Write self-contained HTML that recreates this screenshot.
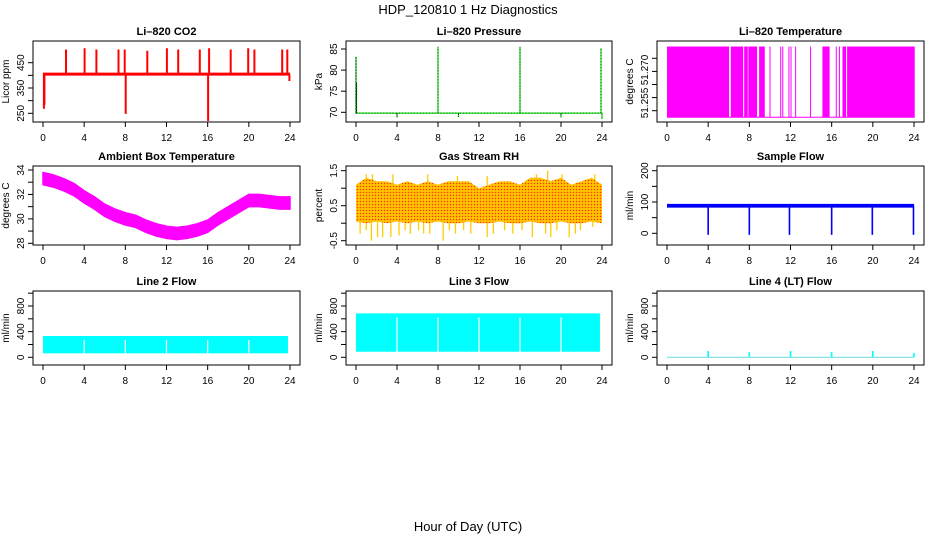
<!DOCTYPE html>
<html><head><meta charset="utf-8"><style>
body{margin:0;background:#fff}
svg{display:block;font-family:"Liberation Sans",sans-serif}
</style></head><body>
<svg id="c" width="936" height="540" viewBox="0 0 936 540">
<defs>
<pattern id="rhpat" width="3" height="3" patternUnits="userSpaceOnUse">
<rect width="3" height="3" fill="#ffb000"/><rect width="1" height="1" fill="#ff3000"/><rect x="1.5" y="1.5" width="1" height="1" fill="#ffff00"/>
</pattern>
</defs>
<text x="468" y="14" font-size="13" text-anchor="middle">HDP_120810  1 Hz Diagnostics</text>
<text x="468" y="531" font-size="13" text-anchor="middle">Hour of Day (UTC)</text>
</svg>
<script>
// ---- data ----
const hourTicks = [0,4,8,12,16,20,24];
const co2Base = 405;
const co2EventHours = [0.05,0.1,2.2,4.0,5.15,7.3,7.9,8.0,10.1,12.0,13.1,15.2,16.1,16.0,18.2,19.9,20.5,23.2,23.7,23.9];
const co2EventValues = [270,285,500,505,500,500,500,250,495,505,500,500,505,222,500,505,500,500,500,380];
const co2Ticks = [250,300,350,400,450];
const co2TickLabels = ["250","","350","","450"];
const presBase = 69.8;
const presEventHours = [0.0,0.05,4.0,8.0,10.0,16.0,20.0,23.9,24.0];
const presEventValues = [83.2,77,68.8,85.5,68.9,85.5,68.8,85.2,68.4];
const presTicks = [70,75,80,85];
const tempHigh = 51.2745, tempLow = 51.2475;
const tempDenseStart = [0,6.2,7.5,7.9,8.95,9.96,11.0,11.2,11.8,12.0,12.45,13.9,15.1,16.4,16.7,17.05,17.5];
const tempDenseEnd   = [6.03,7.4,7.85,8.75,9.5,9.99,11.03,11.23,11.83,12.03,12.48,13.93,15.8,16.43,16.8,17.4,24.07];
const tempTicks = [51.250,51.255,51.260,51.265,51.270];
const ambHours = [0,1,2,3,4,5,6,7,8,9,10,11,12,13,14,15,16,17,18,19,20,21,22,23,24];
const ambValues = [33.3,33.1,32.8,32.4,31.8,31.3,30.7,30.3,30.0,29.8,29.4,29.1,28.9,28.8,28.9,29.1,29.4,30.0,30.5,31.0,31.5,31.5,31.4,31.3,31.3];
const ambTicks = [28,29,30,31,32,33,34];
const ambTickLabels = ["28","","30","","32","","34"];
const rhHours = [0,1,2,3,4,5,6,7,8,9,10,11,12,13,14,15,16,17,18,19,20,21,22,23,24];
const rhUpper = [1.1,1.3,1.2,1.2,1.1,1.2,1.1,1.2,1.1,1.2,1.2,1.2,1.0,1.1,1.2,1.2,1.1,1.3,1.3,1.2,1.3,1.1,1.2,1.3,1.1];
const rhLower = [0.05,0.0,0.05,0.0,0.05,0.0,0.05,0.0,0.05,0.0,0.0,0.05,0.0,0.0,0.05,0.0,0.0,0.05,0.0,0.0,0.05,0.0,0.0,0.05,0.0];
const rhSpikeHours = [0.4,1.0,1.5,2.1,2.6,3.4,4.2,4.8,5.3,6.1,6.6,7.2,8.5,9.1,9.7,10.5,11.2,12.8,13.4,14.5,15.3,16.2,17.2,18.5,19.0,19.6,20.8,21.4,21.9,23.1];
const rhSpikeValues = [-0.3,-0.2,-0.5,-0.4,-0.4,-0.4,-0.35,-0.2,-0.3,-0.2,-0.3,-0.3,-0.5,-0.2,-0.3,-0.2,-0.3,-0.4,-0.3,-0.2,-0.3,-0.2,-0.4,-0.3,-0.4,-0.2,-0.4,-0.3,-0.2,-0.1];
const rhTopSpikeHours = [1.0,1.6,3.6,7.0,9.9,12.8,17.6,18.7,20.1,23.3];
const rhTopSpikeValues = [1.4,1.4,1.4,1.4,1.35,1.35,1.4,1.5,1.4,1.4];
const rhTicks = [-0.5,0,0.5,1,1.5];
const rhTickLabels = ["-0.5","","0.5","","1.5"];
const sfBase = 88;
const sfDipHours = [4.0,8.0,11.9,16.0,19.95,23.95];
const sfDipValues = [-5,-5,-5,-5,-5,-5];
const sfTicks = [0,50,100,150,200];
const sfTickLabels = ["0","","100","","200"];
const l2Upper = 332, l2Lower = 62;
const l3Upper = 685, l3Lower = 87;
const flowGapHours = [4,8,12,16,20];
const l4SpikeHours = [4,8,12,16,20,24];
const l4SpikeValues = [100,80,100,80,100,70];
const flowTicks = [0,200,400,600,800,1000];
const flowTickLabels = ["0","","400","","800",""];

// ---- layout ----
const svg = document.getElementById('c');
const NS = 'http://www.w3.org/2000/svg';
const cols = [{l:33,r:300,x0:43,x24:290},{l:346,r:612,x0:356,x24:602},{l:657,r:924,x0:667,x24:914}];
const rows = [{t:41,b:122},{t:166,b:245},{t:291,b:365}];
function mk(tag, attrs, parent){const e=document.createElementNS(NS,tag);for(const k in attrs)e.setAttribute(k,attrs[k]);(parent||svg).appendChild(e);return e;}

function panel(ci, ri, title, ytitle, v1, p1, v2, p2, ticks, labels, name){
  const c=cols[ci], r=rows[ri];
  const g=mk('g',{});
  
  
  const sx=h=>c.x0+(c.x24-c.x0)*h/24;
  const sy=v=>p1+(v-v1)*(p2-p1)/(v2-v1);
  const t=mk('text',{x:(c.l+c.r)/2,y:r.t-6,'font-size':11,'font-weight':'bold','text-anchor':'middle'},g);
  t.textContent=title;
  
  
  const yt=mk('text',{x:0,y:0,'font-size':10,'text-anchor':'middle',transform:`translate(${c.l-24},${(r.t+r.b)/2}) rotate(-90)`},g);
  yt.textContent=ytitle;
  
  
  const plot=mk('g',{},g);
  const xa=mk('g',{},g);
  
  
  hourTicks.forEach(h=>{
    mk('line',{x1:sx(h),x2:sx(h),y1:r.b,y2:r.b+5,stroke:'#000'},xa);
    const tx=mk('text',{x:sx(h),y:r.b+19,'font-size':10,'text-anchor':'middle'},xa);
    tx.textContent=h;
  });
  const ya=mk('g',{},g);
  
  
  ticks.forEach((v,i)=>{
    const y=sy(v);
    mk('line',{x1:c.l-5,x2:c.l,y1:y,y2:y,stroke:'#000'},ya);
    if(labels && labels[i]){
      const tx=mk('text',{x:0,y:0,'font-size':10,'text-anchor':'middle',transform:`translate(${c.l-9},${y}) rotate(-90)`},ya);
      tx.textContent=labels[i];
    }
  });
  mk('rect',{x:c.l,y:r.t,width:c.r-c.l,height:r.b-r.t,fill:'none',stroke:'#000'},g);
  return {plot,sx,sy,c,r,ya};
}
function pl(g,pts,attrs){return mk('polyline',Object.assign({points:pts.map(p=>p[0].toFixed(1)+','+p[1].toFixed(1)).join(' '),fill:'none'},attrs),g);}

// CO2
{const P=panel(0,0,'Li\u2013820 CO2','Licor ppm',450,62.7,250,113.3,co2Ticks,co2TickLabels,'co2');
 const ord=co2EventHours.map((h,i)=>i).sort((a,b)=>co2EventHours[a]-co2EventHours[b]);
 const pts=[[P.sx(0),P.sy(co2Base)]];
 ord.forEach(i=>{const x=P.sx(co2EventHours[i]);pts.push([x,P.sy(co2Base)],[x,P.sy(co2EventValues[i])],[x+0.8,P.sy(co2EventValues[i])],[x+0.8,P.sy(co2Base)]);});
 pts.push([P.sx(24),P.sy(co2Base)]);
 const l=pl(P.plot,pts,{stroke:'#ff0000','stroke-width':1.2});
 
 
 const b=mk('line',{x1:P.sx(0),x2:P.sx(24),y1:P.sy(co2Base),y2:P.sy(co2Base),stroke:'#ff0000','stroke-width':3},P.plot);
 
 }

// Pressure
{const P=panel(1,0,'Li\u2013820 Pressure','kPa',85,49,70,112.3,presTicks,presTicks.map(String),'pressure');
 const pts=[[P.sx(0),P.sy(presBase)]];
 presEventHours.forEach((h,i)=>{const x=P.sx(h);pts.push([x,P.sy(presBase)],[x,P.sy(presEventValues[i])],[x,P.sy(presBase)]);});
 pts.push([P.sx(24),P.sy(presBase)]);
 const l=pl(P.plot,pts,{stroke:'#00ee00','stroke-width':1.2});
 
 
 const d=pl(P.plot,pts,{stroke:'#000','stroke-width':0.8,'stroke-dasharray':'1 2'});
 
 }

// Li-820 temperature
{const P=panel(2,0,'Li\u2013820 Temperature','degrees C',51.250,110.7,51.270,58.3,tempTicks,null,'li820-temp');
 [['51.270',70],['51.255',103]].forEach(([s,y])=>{
   const tx=mk('text',{x:0,y:0,'font-size':10,'text-anchor':'middle',transform:`translate(${P.c.l-9},${y}) rotate(-90)`},P.ya);
   tx.textContent=s;
 });
 const lo=mk('line',{x1:P.sx(0),x2:P.sx(24.07),y1:P.sy(tempLow),y2:P.sy(tempLow),stroke:'#ff00ff'},P.plot);
 
 
 tempDenseStart.forEach((s,i)=>{
   const x1=P.sx(s),x2=P.sx(tempDenseEnd[i]);
   const rc=mk('rect',{x:x1,y:P.sy(tempHigh),width:Math.max(1,x2-x1),height:P.sy(tempLow)-P.sy(tempHigh),fill:'#ff00ff'},P.plot);
   
   
 });}

// Ambient
{const P=panel(0,1,'Ambient Box Temperature','degrees C',34,170,28,243.3,ambTicks,ambTickLabels,'ambient-temp');
 const up=ambHours.map((h,i)=>[P.sx(h),P.sy(ambValues[i]+0.5)]);
 const dn=ambHours.map((h,i)=>[P.sx(h),P.sy(ambValues[i]-0.5)]).reverse();
 const pg=mk('polygon',{points:up.concat(dn).map(p=>p.join(',')).join(' '),fill:'#ff00ff',stroke:'#ff00ff','stroke-width':1.5},P.plot);
 
 }

// RH
{const P=panel(1,1,'Gas Stream RH','percent',1.5,170.7,-0.5,240.7,rhTicks,rhTickLabels,'rh');
 rhSpikeHours.forEach((h,i)=>{
   const s=mk('line',{x1:P.sx(h),x2:P.sx(h),y1:P.sy(0.3),y2:P.sy(rhSpikeValues[i]),stroke:'#ffcc00','stroke-width':1.3},P.plot);
   
   
 });
 rhTopSpikeHours.forEach((h,i)=>{
   const s=mk('line',{x1:P.sx(h),x2:P.sx(h),y1:P.sy(1.0),y2:P.sy(rhTopSpikeValues[i]),stroke:'#ffcc00','stroke-width':1.3},P.plot);
   
   
 });
 const up=rhHours.map((h,i)=>[P.sx(h),P.sy(rhUpper[i])]);
 const dn=rhHours.map((h,i)=>[P.sx(h),P.sy(rhLower[i])]).reverse();
 const pg=mk('polygon',{points:up.concat(dn).map(p=>p.join(',')).join(' '),fill:'url(#rhpat)'},P.plot);
 
 }

// Sample flow
{const P=panel(2,1,'Sample Flow','ml/min',0,233.3,200,170.7,sfTicks,sfTickLabels,'sample-flow');
 const b=mk('rect',{x:P.sx(0),y:P.sy(sfBase+6),width:P.sx(24)-P.sx(0),height:P.sy(sfBase-6)-P.sy(sfBase+6),fill:'#0000ff'},P.plot);
 
 
 sfDipHours.forEach((h,i)=>{
   const d=mk('rect',{x:P.sx(h)-0.8,y:P.sy(sfBase),width:1.6,height:P.sy(sfDipValues[i])-P.sy(sfBase),fill:'#0000ff'},P.plot);
   
   
 });}

// Line 2 / Line 3 flows
function flowBand(P,upper,lower,name){
  const b=mk('rect',{x:P.sx(0),y:P.sy(upper),width:P.sx(23.8)-P.sx(0),height:P.sy(lower)-P.sy(upper),fill:'#00ffff'},P.plot);
  
  
  flowGapHours.forEach(h=>{
    const gp=mk('rect',{x:P.sx(h)-0.6,y:P.sy(upper)+4,width:1.2,height:P.sy(lower)-P.sy(upper)-3,fill:'#fff'},P.plot);
    
    
  });
}
{const P=panel(0,2,'Line 2 Flow','ml/min',0,357.3,800,306,flowTicks,flowTickLabels,'line2-flow');flowBand(P,l2Upper,l2Lower,'line2-flow');}
{const P=panel(1,2,'Line 3 Flow','ml/min',0,357.3,800,306,flowTicks,flowTickLabels,'line3-flow');flowBand(P,l3Upper,l3Lower,'line3-flow');}
{const P=panel(2,2,'Line 4 (LT) Flow','ml/min',0,357.3,800,306,flowTicks,flowTickLabels,'line4-flow');
 const b=mk('line',{x1:P.sx(0),x2:P.sx(24),y1:P.sy(0),y2:P.sy(0),stroke:'#66dddd'},P.plot);
 
 
 l4SpikeHours.forEach((h,i)=>{
   const s=mk('rect',{x:P.sx(h)-0.8,y:P.sy(l4SpikeValues[i]),width:1.6,height:P.sy(0)-P.sy(l4SpikeValues[i]),fill:'#00ffff'},P.plot);
   
   
 });}
</script>
</body></html>
